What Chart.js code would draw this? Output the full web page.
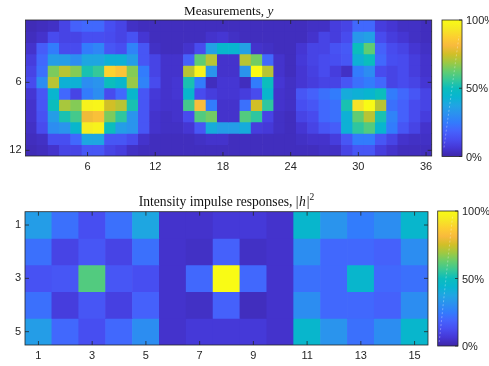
<!DOCTYPE html>
<html>
<head>
<meta charset="utf-8">
<script src="https://cdn.jsdelivr.net/npm/chart.js@4.4.0/dist/chart.umd.min.js"></script>
<style>
  html, body { margin: 0; padding: 0; background: #fff; }
  #wrap { position: relative; width: 489px; height: 366px; }
  canvas { position: absolute; left: 0; }
</style>
</head>
<body>
<div id="wrap">
  <canvas id="measChart" width="489" height="183" style="top:0"></canvas>
  <canvas id="psfChart" width="489" height="183" style="top:183px"></canvas>
</div>
<script>
// pixel columns / rows of the measurement image
const measCols = ['1','2','3','4','5','6','7','8','9','10','11','12','13','14','15','16','17','18',
  '19','20','21','22','23','24','25','26','27','28','29','30','31','32','33','34','35','36'];
const measXTicks = [6, 12, 18, 24, 30, 36];
const measYTicks = [6, 12];

// normalised intensity, one array per image row (row 1 at the top)
const measurements = [
  [0.02,0.03,0.04,0.10,0.18,0.20,0.20,0.13,0.10, 0.04,0.03,0.03,0.03,0.03,0.03,0.03,0.03,0.03, 0.03,0.03,0.03,0.03,0.03,0.03,0.03,0.04,0.04, 0.08,0.10,0.20,0.20,0.08,0.06,0.04,0.04,0.03],
  [0.03,0.05,0.12,0.10,0.10,0.13,0.13,0.12,0.10, 0.14,0.06,0.03,0.03,0.03,0.03,0.03,0.05,0.06, 0.04,0.03,0.03,0.03,0.03,0.03,0.03,0.05,0.10, 0.08,0.12,0.33,0.36,0.12,0.08,0.06,0.04,0.03],
  [0.05,0.17,0.25,0.12,0.12,0.25,0.28,0.15,0.13, 0.27,0.15,0.04,0.03,0.03,0.05,0.12,0.36,0.45, 0.44,0.36,0.05,0.04,0.03,0.03,0.06,0.10,0.10, 0.14,0.16,0.50,0.62,0.18,0.12,0.10,0.06,0.04],
  [0.08,0.20,0.35,0.35,0.30,0.38,0.38,0.42,0.42, 0.35,0.15,0.10,0.05,0.05,0.18,0.62,0.72,0.05, 0.05,0.72,0.64,0.20,0.05,0.03,0.07,0.10,0.12, 0.13,0.15,0.42,0.50,0.20,0.13,0.12,0.08,0.05],
  [0.10,0.22,0.65,0.72,0.66,0.52,0.56,0.88,0.84, 0.66,0.25,0.10,0.05,0.05,0.72,0.97,0.32,0.05, 0.05,0.32,1.00,0.72,0.05,0.03,0.06,0.09,0.12, 0.08,0.04,0.25,0.30,0.12,0.10,0.12,0.08,0.05],
  [0.12,0.30,0.72,0.42,0.42,0.30,0.32,0.50,0.45, 0.68,0.27,0.12,0.05,0.06,0.52,0.25,0.03,0.06, 0.06,0.03,0.25,0.50,0.06,0.04,0.06,0.08,0.10, 0.10,0.15,0.22,0.25,0.20,0.10,0.12,0.10,0.06],
  [0.06,0.15,0.44,0.20,0.10,0.25,0.30,0.12,0.20, 0.45,0.15,0.07,0.05,0.06,0.45,0.12,0.08,0.06, 0.06,0.08,0.12,0.45,0.05,0.04,0.15,0.18,0.22, 0.25,0.40,0.42,0.44,0.50,0.25,0.20,0.15,0.10],
  [0.05,0.15,0.50,0.70,0.66,0.97,0.98,0.75,0.72, 0.52,0.15,0.06,0.05,0.05,0.58,0.82,0.25,0.05, 0.05,0.22,0.75,0.55,0.05,0.04,0.13,0.15,0.20, 0.22,0.52,0.92,1.00,0.72,0.22,0.18,0.12,0.10],
  [0.05,0.14,0.35,0.52,0.58,0.80,0.83,0.65,0.55, 0.32,0.15,0.05,0.04,0.05,0.12,0.60,0.64,0.05, 0.05,0.60,0.55,0.10,0.04,0.03,0.10,0.12,0.20, 0.22,0.42,0.62,0.72,0.52,0.27,0.18,0.12,0.08],
  [0.04,0.12,0.30,0.32,0.45,0.95,0.97,0.50,0.35, 0.32,0.15,0.05,0.04,0.04,0.06,0.15,0.40,0.35, 0.35,0.40,0.08,0.07,0.04,0.03,0.06,0.10,0.15, 0.17,0.42,0.55,0.60,0.44,0.25,0.15,0.10,0.05],
  [0.03,0.04,0.13,0.13,0.20,0.38,0.38,0.15,0.15, 0.12,0.05,0.03,0.03,0.03,0.03,0.04,0.05,0.05, 0.03,0.03,0.03,0.03,0.03,0.03,0.04,0.05,0.05, 0.08,0.15,0.25,0.25,0.15,0.10,0.05,0.04,0.04],
  [0.02,0.03,0.05,0.10,0.10,0.15,0.15,0.10,0.08, 0.04,0.03,0.03,0.03,0.03,0.03,0.03,0.03,0.03, 0.03,0.03,0.03,0.03,0.03,0.03,0.03,0.03,0.04, 0.04,0.10,0.15,0.15,0.08,0.05,0.03,0.03,0.03]
];

// three 5x5 impulse responses side by side
const psfCols = ['1','2','3','4','5','6','7','8','9','10','11','12','13','14','15'];
const psfXTicks = [1, 3, 5, 7, 9, 11, 13, 15];
const psfYTicks = [1, 3, 5];
const impulse = [
  [0.35,0.22,0.13,0.22,0.38, 0.05,0.05,0.07,0.07,0.05, 0.45,0.32,0.25,0.30,0.45],
  [0.22,0.10,0.15,0.10,0.22, 0.05,0.04,0.18,0.04,0.05, 0.30,0.20,0.20,0.18,0.30],
  [0.14,0.15,0.60,0.15,0.13, 0.05,0.20,1.00,0.20,0.05, 0.22,0.20,0.45,0.20,0.22],
  [0.22,0.08,0.15,0.09,0.18, 0.05,0.04,0.18,0.03,0.05, 0.30,0.20,0.20,0.18,0.30],
  [0.35,0.20,0.13,0.20,0.30, 0.05,0.07,0.07,0.07,0.05, 0.45,0.32,0.22,0.30,0.45]
];

const cbarLabels = ['0%', '50%', '100%'];

// parula, every 4th entry of the 64-colour table
const PARULA = [
  [0.2422,0.1504,0.6603],[0.2706,0.2147,0.8364],[0.2813,0.3006,0.9414],[0.2699,0.3892,0.9906],
  [0.1963,0.4847,0.9892],[0.1687,0.5703,0.9359],[0.1248,0.6459,0.8883],[0.0297,0.7082,0.8163],
  [0.0433,0.7411,0.7394],[0.2161,0.7843,0.5923],[0.3909,0.8029,0.4354],[0.6174,0.7876,0.2612],
  [0.8203,0.7498,0.1535],[0.9728,0.7298,0.2394],[0.9892,0.8136,0.1885],[0.9597,0.9135,0.1423],
  [0.9769,0.9839,0.0805]
];

function parula(v) {
  v = Math.max(0, Math.min(1, v));
  const f = v * (PARULA.length - 1);
  const i = Math.min(PARULA.length - 2, Math.floor(f));
  const t = f - i;
  const c = PARULA[i].map((a, k) => Math.round(255 * (a + (PARULA[i + 1][k] - a) * t)));
  return `rgb(${c[0]},${c[1]},${c[2]})`;
}

const AXIS_COLOR = '#262626';
const tickFont = { family: '"Liberation Sans", Arial, sans-serif', size: 11 };

// frame, inward ticks, title and colorbar drawn around the chart area
function decorPlugin(cfg) {
  return {
    id: 'decor',
    afterDatasetsDraw(chart) {
      const ctx = chart.ctx;
      const a = chart.chartArea;
      const xs = chart.scales.x, ys = chart.scales.y;
      ctx.save();
      ctx.strokeStyle = AXIS_COLOR;
      ctx.lineWidth = 0.8;
      ctx.strokeRect(a.left, a.top, a.right - a.left, a.bottom - a.top);
      ctx.beginPath();
      cfg.xTicks.forEach(t => {
        const px = xs.getPixelForValue(cfg.cols.indexOf(String(t)));
        ctx.moveTo(px, a.top); ctx.lineTo(px, a.top + 4);
        ctx.moveTo(px, a.bottom); ctx.lineTo(px, a.bottom - 4);
      });
      cfg.yTicks.forEach(t => {
        const py = ys.getPixelForValue(t);
        ctx.moveTo(a.left, py); ctx.lineTo(a.left + 4, py);
        ctx.moveTo(a.right, py); ctx.lineTo(a.right - 4, py);
      });
      ctx.stroke();
      ctx.restore();
    },
    afterDraw(chart) {
      const ctx = chart.ctx;
      const a = chart.chartArea;
      ctx.save();

      // title, LaTeX-style mixed roman / italic
      const size = cfg.titleSize;
      const roman = `${size}px "Liberation Serif", "Times New Roman", serif`;
      const ital = `italic ${size}px "Liberation Serif", "Times New Roman", serif`;
      const small = `${size * 0.7}px "Liberation Serif", "Times New Roman", serif`;
      let w = 0;
      cfg.title.forEach(p => {
        ctx.font = p.style === 'i' ? ital : p.style === 'sup' ? small : roman;
        w += ctx.measureText(p.text).width + (p.gap || 0);
      });
      let x = (a.left + a.right) / 2 - w / 2;
      ctx.fillStyle = '#111';
      ctx.textBaseline = 'alphabetic';
      ctx.textAlign = 'left';
      cfg.title.forEach(p => {
        ctx.font = p.style === 'i' ? ital : p.style === 'sup' ? small : roman;
        const dy = p.style === 'sup' ? -size * 0.42 : 0;
        ctx.fillText(p.text, x, cfg.titleY + dy);
        x += ctx.measureText(p.text).width + (p.gap || 0);
      });

      // colorbar
      const cb = cfg.cbar;
      const grad = ctx.createLinearGradient(0, cb.y + cb.h, 0, cb.y);
      PARULA.forEach((c, i) => grad.addColorStop(i / (PARULA.length - 1), parula(i / (PARULA.length - 1))));
      ctx.fillStyle = grad;
      ctx.fillRect(cb.x, cb.y, cb.w, cb.h);

      ctx.strokeStyle = 'rgba(255,255,255,0.45)';
      ctx.lineWidth = 0.7;
      ctx.setLineDash([2, 2]);
      ctx.beginPath();
      ctx.moveTo(cb.x + cb.dash[0], cb.y + cb.h - cb.dash[1]);
      ctx.lineTo(cb.x + cb.dash[2], cb.y + cb.dash[3]);
      ctx.stroke();
      ctx.setLineDash([]);

      ctx.strokeStyle = AXIS_COLOR;
      ctx.lineWidth = 0.8;
      ctx.strokeRect(cb.x, cb.y, cb.w, cb.h);
      ctx.font = `${tickFont.size}px ${tickFont.family}`;
      ctx.fillStyle = AXIS_COLOR;
      ctx.textBaseline = 'middle';
      ctx.beginPath();
      cbarLabels.forEach((lab, i) => {
        const py = cb.y + cb.h - (i / (cbarLabels.length - 1)) * cb.h;
        ctx.moveTo(cb.x + cb.w, py); ctx.lineTo(cb.x + cb.w - 3, py);
        ctx.fillText(lab, cb.x + cb.w + 4, py + 1);
      });
      ctx.stroke();
      ctx.restore();
    }
  };
}

function heatmap(id, cols, values, cfg) {
  const box = cfg.box;
  const canvas = document.getElementById(id);
  const datasets = values.map((row, r) => ({
    data: row.map(() => [r + 0.5, r + 1.5]),
    backgroundColor: row.map(parula),
    borderWidth: 0,
    grouped: false,
    barPercentage: 1,
    categoryPercentage: 1
  }));
  return new Chart(canvas, {
    type: 'bar',
    data: { labels: cols, datasets },
    options: {
      responsive: false,
      animation: false,
      events: [],
      layout: { padding: { left: 0, top: box.top, right: canvas.width - box.right, bottom: 0 } },
      plugins: { legend: { display: false }, tooltip: { enabled: false }, title: { display: false } },
      scales: {
        x: {
          type: 'category',
          offset: true,
          grid: { display: false, drawTicks: false },
          border: { display: false },
          ticks: {
            autoSkip: false, maxRotation: 0, padding: 4, color: AXIS_COLOR, font: tickFont,
            callback(v) {
              const lab = this.getLabelForValue(v);
              return cfg.xTicks.includes(+lab) ? lab : '';
            }
          },
          afterFit(s) { s.height = canvas.height - box.bottom; }
        },
        y: {
          type: 'linear',
          reverse: true,
          min: 0.5,
          max: values.length + 0.5,
          grid: { display: false, drawTicks: false },
          border: { display: false },
          afterBuildTicks(s) { s.ticks = cfg.yTicks.map(v => ({ value: v })); },
          ticks: { padding: 4, color: AXIS_COLOR, font: tickFont },
          afterFit(s) { s.width = box.left; }
        }
      }
    },
    plugins: [decorPlugin(Object.assign({ cols }, cfg))]
  });
}

heatmap('measChart', measCols, measurements, {
  box: { left: 25.5, top: 20, right: 431.7, bottom: 156 },
  xTicks: measXTicks,
  yTicks: measYTicks,
  title: [{ text: 'Measurements, ' }, { text: 'y', style: 'i' }],
  titleSize: 13.2,
  titleY: 15,
  cbar: { x: 442, y: 20, w: 20, h: 136.5, dash: [2, 9, 17, 16] }
});

heatmap('psfChart', psfCols, impulse, {
  box: { left: 25, top: 28.7, right: 428, bottom: 162 },
  xTicks: psfXTicks,
  yTicks: psfYTicks,
  title: [{ text: 'Intensity impulse responses, ' }, { text: '|', gap: 0.5 }, { text: 'h', style: 'i', gap: 1 },
          { text: '|' }, { text: '2', style: 'sup' }],
  titleSize: 13.6,
  titleY: 22.7,
  cbar: { x: 437.7, y: 28, w: 20.3, h: 135, dash: [1.5, 4, 15, 4] }
});
</script>
</body>
</html>
